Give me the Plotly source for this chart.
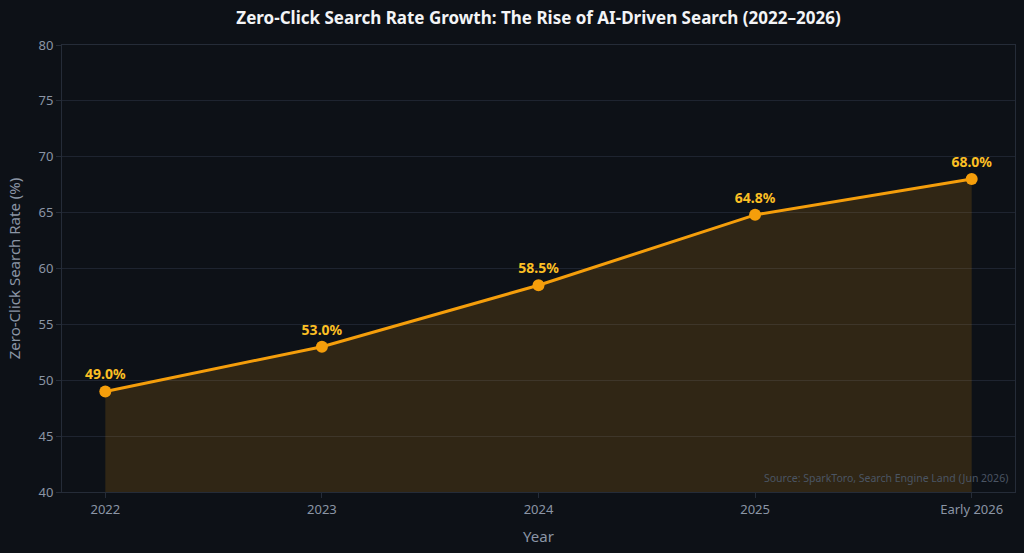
import plotly.graph_objects as go

years = ["2022", "2023", "2024", "2025", "Early 2026"]
rates = [49.0, 53.0, 58.5, 64.8, 68.0]
labels = [f"{v:.1f}%" for v in rates]
y_ticks = [40, 45, 50, 55, 60, 65, 70, 75, 80]

BG = "#0d1117"
GRID = "#1e2430"
AXIS = "#252c38"
TICK = "#8b95a5"

fig = go.Figure()
fig.add_trace(go.Scatter(
    x=years, y=rates, mode="lines+markers+text",
    line=dict(color="#f59e0b", width=3),
    marker=dict(color="#f59e0b", size=12),
    fill="tozeroy", fillcolor="rgba(245,158,11,0.15)",
    text=labels, textposition="top center",
    textfont=dict(color="#fbbf24", size=14, family="Noto Sans"),
    cliponaxis=False, hoverinfo="skip", showlegend=False,
))
fig.update_traces(texttemplate="<b>%{text}</b>")

fig.update_layout(
    width=1024, height=553,
    paper_bgcolor=BG, plot_bgcolor=BG,
    margin=dict(l=62, r=9, t=45, b=61),
    font=dict(family="Noto Sans", color=TICK, size=13),
    title=dict(text="<b>Zero-Click Search Rate Growth: The Rise of AI-Driven Search (2022–2026)</b>",
               xref="paper", x=0.5, xanchor="center", y=0.968, yanchor="middle",
               font=dict(size=17, color="#f3f4f6", family="Noto Sans")),
    xaxis=dict(type="category", range=[-0.2, 4.2], showgrid=False,
               showline=True, linecolor=AXIS, mirror=True, linewidth=1,
               ticks="outside", ticklen=5, tickcolor=AXIS,
               tickfont=dict(size=13, color=TICK),
               title=dict(text="Year", font=dict(size=15, color=TICK), standoff=14)),
    yaxis=dict(range=[40, 80], tickvals=y_ticks, showgrid=True, gridcolor=GRID,
               zeroline=False, showline=True, linecolor=AXIS, mirror=True, linewidth=1,
               ticks="outside", ticklen=5, tickcolor=AXIS,
               tickfont=dict(size=13, color=TICK),
               title=dict(text="Zero-Click Search Rate (%)", font=dict(size=15, color=TICK), standoff=14)),
    annotations=[dict(text="Source: SparkToro, Search Engine Land (Jun 2026)",
                      xref="paper", yref="paper", x=0.995, y=0.012,
                      xanchor="right", yanchor="bottom", showarrow=False,
                      font=dict(size=10.5, color="#4b5563"))],
)

fig.write_html("out.html", config={"displayModeBar": False},
               post_script="document.body.style.margin='0';document.body.style.background='#0d1117';document.body.style.overflow='hidden';")
